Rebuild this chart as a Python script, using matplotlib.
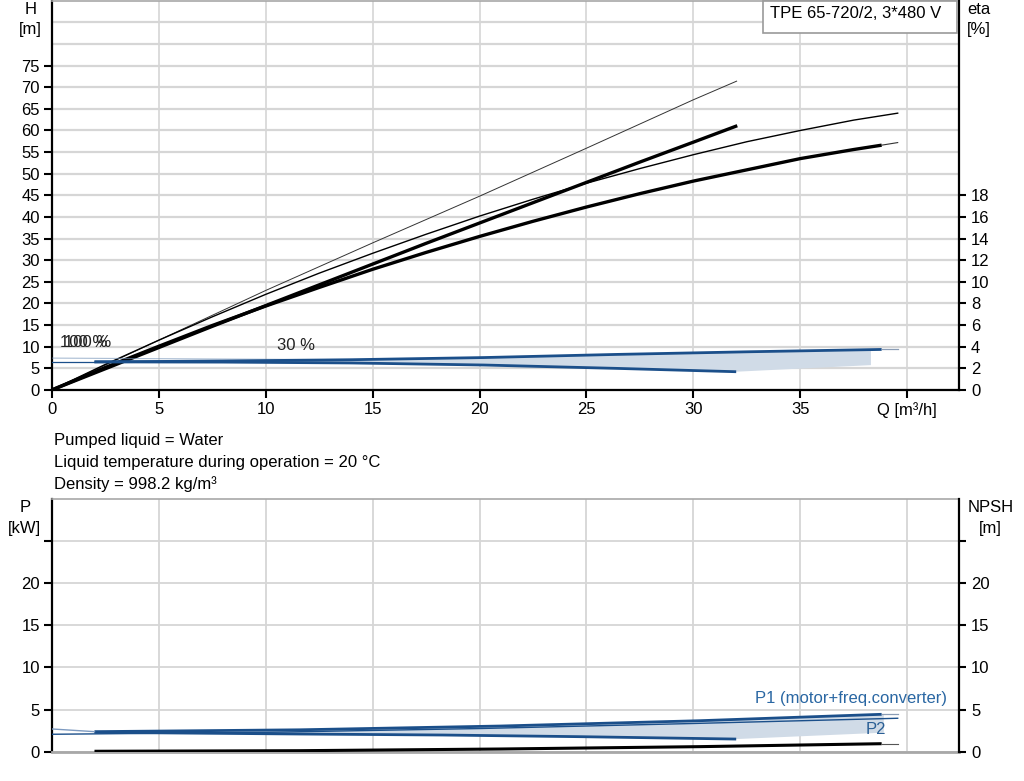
import matplotlib
matplotlib.use('Agg')
import matplotlib.pyplot as plt
from matplotlib.patches import Rectangle
import numpy as np

plt.rcParams['font.family'] = ['Liberation Sans', 'DejaVu Sans']
plt.rcParams['font.size'] = 12

# ---------------- data ----------------
# head curves (H [m] vs Q [m3/h])
q_h1 = [0, 5, 10, 15, 20, 25, 30, 32.02]
h_h1 = [0, 11.5, 23.0, 34.0, 44.8, 55.9, 67.1, 71.4]
q_h2 = [0, 2.5, 5, 7.5, 10, 12.5, 15, 17.5, 20, 22.5, 25, 27.5, 30, 32.05]
h_h2 = [0, 4.9, 9.8, 14.7, 19.5, 24.3, 29.1, 33.9, 38.6, 43.3, 48.0, 52.7, 57.3, 61.1]
q_h3 = [0, 2.5, 5, 7.5, 10, 12.5, 15, 17.5, 20, 22.5, 25, 27.5, 30, 32.5, 35, 37.5, 39.55]
h_h3 = [0, 5.9, 11.5, 16.9, 22.1, 27.0, 31.6, 36.0, 40.2, 44.1, 47.8, 51.2, 54.4, 57.4, 60.0, 62.4, 64.0]
q_h4 = [0, 2.5, 5, 7.5, 10, 12.5, 15, 17.5, 20, 22.5, 25, 27.5, 30, 32.5, 35, 37.5, 38.8]
h_h4 = [0, 5.2, 10.1, 14.9, 19.4, 23.7, 27.9, 31.8, 35.5, 39.0, 42.3, 45.4, 48.3, 50.9, 53.5, 55.6, 56.6]
q_h4_ext = [38.8, 39.55]
h_h4_ext = [56.6, 57.2]

# efficiency curves (eta [%])
q_eta100 = [2, 8, 14, 20.2, 26.4, 32.7, 38.8]
eta100 = [2.6, 2.68, 2.8, 3.0, 3.29, 3.54, 3.75]
q_eta30 = [2, 8, 14, 20.2, 26.4, 32]
eta30 = [2.6, 2.58, 2.5, 2.31, 2.0, 1.69]
q_eta_ext_l = [0, 2]
eta_ext_l = [2.6, 2.6]
q_eta_ext_r = [38.8, 39.55]
eta_ext_r = [3.75, 3.75]
q_eta_fill_end = 38.3
eta_fill_end = 2.3

# power curves (P [kW])
q_p1_100 = [2, 11.6, 21, 30.3, 38.8]
p_p1_100 = [2.38, 2.6, 3.05, 3.68, 4.44]
q_p1_30 = [2, 11.6, 18.3, 24.8, 32]
p_p1_30 = [2.3, 2.1, 1.98, 1.78, 1.5]
q_p2 = [0, 10, 20, 30, 39.55]
p_p2 = [2.07, 2.3, 2.75, 3.35, 3.97]
q_p1_ext_l = [0, 2]
p_p1_ext_l = [2.7, 2.38]
q_p1_ext_r = [38.8, 39.55]
p_p1_ext_r = [4.44, 4.44]
q_p_fill_end = 38.9
p_fill_end = 2.26

# NPSH curve
q_npsh = [2, 11.6, 21, 30.3, 38.8]
npsh = [0.05, 0.12, 0.32, 0.6, 0.95]
q_npsh_ext = [38.8, 39.55]
npsh_ext = [0.95, 0.95]

h_ticks = list(range(0, 80, 5))
eta_ticks = list(range(0, 20, 2))
q_ticks = list(range(0, 45, 5))
q_ticklabels = [str(v) for v in q_ticks[:-1]] + ['Q [m³/h]']
p_ticks = list(range(0, 30, 5))
p_ticklabels = ['0', '5', '10', '15', '20', '']

info_lines = ['Pumped liquid = Water',
              'Liquid temperature during operation = 20 °C',
              'Density = 998.2 kg/m³']

# ---------------- style ----------------
BLUE = '#1b4f8a'
FILL = '#d0dbe7'
GRID = '#d6d6d6'
GRAYSP = '#a8a8a8'
FS = 12

W, HP = 1024, 781
fig = plt.figure(figsize=(W / 100, HP / 100), dpi=100)


def box(l, t, r, b):
    return [l / W, 1 - b / HP, (r - l) / W, (b - t) / HP]


def fig_text(x, y, s, **kw):
    fig.text(x / W, 1 - y / HP, s, **kw)


ax = fig.add_axes(box(51.7, 0.7, 959.3, 390))
ax2 = ax.twinx()
axb = fig.add_axes(box(51.7, 499, 959.3, 751.7))
axb2 = axb.twinx()

for a in (ax, ax2, axb, axb2):
    a.set_xlim(0, 42.43)
    for s in a.spines.values():
        s.set_linewidth(1.6)
        s.set_color('black')

ax.set_ylim(0, 90)
ax2.set_ylim(0, 36)
axb.set_ylim(0, 30)
axb2.set_ylim(0, 30)

# spines
for a in (ax, axb):
    a.spines['right'].set_visible(False)
for a in (ax2, axb2):
    a.spines['left'].set_visible(False)
    a.spines['top'].set_visible(False)
    a.spines['bottom'].set_visible(False)
ax.spines['top'].set_color(GRAYSP)
ax.spines['top'].set_linewidth(1.2)
axb.spines['top'].set_color(GRAYSP)
axb.spines['top'].set_linewidth(1.2)
axb.spines['bottom'].set_color(GRAYSP)
axb.spines['bottom'].set_linewidth(2.0)

# ticks top panel
ax.set_yticks(h_ticks)
ax.set_yticks([80, 85], minor=True)
ax.set_xticks(q_ticks)
ax.set_xticklabels(q_ticklabels)
ax.tick_params(axis='both', which='major', direction='out', length=5.5,
               width=1.5, pad=3, labelsize=FS)
ax.tick_params(axis='y', which='minor', length=0)
ax2.set_yticks(eta_ticks)
ax2.tick_params(axis='y', direction='out', length=5, width=1.5, pad=3.5,
                labelsize=FS)
ax.grid(True, which='both', axis='y', color=GRID, lw=1.6)
ax.grid(True, which='major', axis='x', color=GRID, lw=1.2)
ax.set_axisbelow(True)

# ticks bottom panel
axb.set_yticks(p_ticks)
axb.set_yticklabels(p_ticklabels)
axb.set_xticks(q_ticks)
axb.set_xticklabels([])
axb.tick_params(axis='x', length=0)
axb.tick_params(axis='y', direction='out', length=5.5, width=1.5, pad=3,
                labelsize=FS)
axb2.set_yticks(p_ticks)
axb2.set_yticklabels(p_ticklabels)
axb2.tick_params(axis='y', direction='out', length=5, width=1.5, pad=3.5,
                 labelsize=FS)
axb.grid(True, axis='both', color=GRID, lw=1.3)
axb.set_axisbelow(True)

# ---------------- top panel curves ----------------
q_up = [q for q in q_eta100 if q <= q_eta_fill_end] + [q_eta_fill_end]
e_up = list(np.interp(q_up, q_eta100, eta100))
poly_q = q_up + [q_eta_fill_end] + q_eta30[::-1]
poly_e = e_up + [eta_fill_end] + eta30[::-1]
ax2.fill(poly_q, poly_e, color=FILL, lw=0, zorder=1)
ax2.plot(q_eta100, eta100, color=BLUE, lw=2.0, zorder=3, solid_capstyle='butt')
ax2.plot(q_eta30, eta30, color=BLUE, lw=2.0, zorder=3, solid_capstyle='butt')
ax2.plot(q_eta_ext_l, eta_ext_l, color=BLUE, lw=0.9, zorder=3)
ax2.plot([0, 14], [2.95, 2.8], color='#6f8fb5', lw=0.8, alpha=0.6, zorder=2)
ax2.plot(q_eta_ext_r, eta_ext_r, color='#8a9cb5', lw=0.9, zorder=3)

ax.plot(q_h1, h_h1, color='#333333', lw=0.7, zorder=4)
ax.plot(q_h3, h_h3, color='black', lw=1.0, zorder=4)
ax.plot(q_h2, h_h2, color='black', lw=2.4, zorder=4, solid_capstyle='butt')
ax.plot(q_h4, h_h4, color='black', lw=2.4, zorder=4, solid_capstyle='butt')
ax.plot(q_h4_ext, h_h4_ext, color='#333333', lw=0.8, zorder=4)

# ---------------- bottom panel curves ----------------
q_up = [q for q in q_p1_100 if q <= q_p_fill_end] + [q_p_fill_end]
p_up = list(np.interp(q_up, q_p1_100, p_p1_100))
poly_q = q_up + [q_p_fill_end] + q_p1_30[::-1]
poly_p = p_up + [p_fill_end] + p_p1_30[::-1]
axb.fill(poly_q, poly_p, color=FILL, lw=0, zorder=1)
axb.plot(q_p1_100, p_p1_100, color=BLUE, lw=2.0, zorder=3, solid_capstyle='butt')
axb.plot(q_p1_30, p_p1_30, color=BLUE, lw=2.0, zorder=3, solid_capstyle='butt')
axb.plot(q_p2, p_p2, color=BLUE, lw=1.0, zorder=3)
axb.plot(q_p1_ext_l, p_p1_ext_l, color='#7d9ac0', lw=1.0, zorder=3)
axb.plot(q_p1_ext_r, p_p1_ext_r, color='#8a9cb5', lw=0.9, zorder=3)
axb2.plot(q_npsh, npsh, color='black', lw=2.2, zorder=3, solid_capstyle='butt')
axb2.plot(q_npsh_ext, npsh_ext, color='#555555', lw=0.8, zorder=3)

# ---------------- texts ----------------
fig_text(31, 9, 'H', ha='center', va='center', fontsize=FS)
fig_text(30, 29.5, '[m]', ha='center', va='center', fontsize=FS)
fig_text(979, 9, 'eta', ha='center', va='center', fontsize=FS)
fig_text(979, 29.5, '[%]', ha='center', va='center', fontsize=FS)
fig_text(25, 508, 'P', ha='center', va='center', fontsize=FS)
fig_text(24.5, 528, '[kW]', ha='center', va='center', fontsize=FS)
fig_text(991, 508, 'NPSH', ha='center', va='center', fontsize=FS)
fig_text(990, 528, '[m]', ha='center', va='center', fontsize=FS)

fig_text(60.5, 342.5, '100 %', ha='left', va='center', color='#222222', fontsize=FS)
fig_text(63.5, 342.5, '100 %', ha='left', va='center', color='#222222', fontsize=FS)
fig_text(277, 346, '30 %', ha='left', va='center', color='#222222', fontsize=FS)

fig_text(946.7, 699, 'P1 (motor+freq.converter)', ha='right', va='center',
         color='#2a67a3', fontsize=FS)
fig_text(865.7, 729, 'P2', ha='left', va='center', color='#2a5f95', fontsize=FS)

for i, line in enumerate(info_lines):
    fig_text(54, 440 + 22 * i, line, ha='left', va='center', fontsize=FS)

fig.patches.append(Rectangle((763.3 / W, 1 - 32.7 / HP), (957.3 - 763.3) / W,
                             32.2 / HP, transform=fig.transFigure,
                             facecolor='white', edgecolor='#9a9a9a', lw=1.2))
fig_text(770, 14, 'TPE 65-720/2, 3*480 V', ha='left', va='center',
         fontsize=12, zorder=5)

fig.savefig('out.png', dpi=100)
